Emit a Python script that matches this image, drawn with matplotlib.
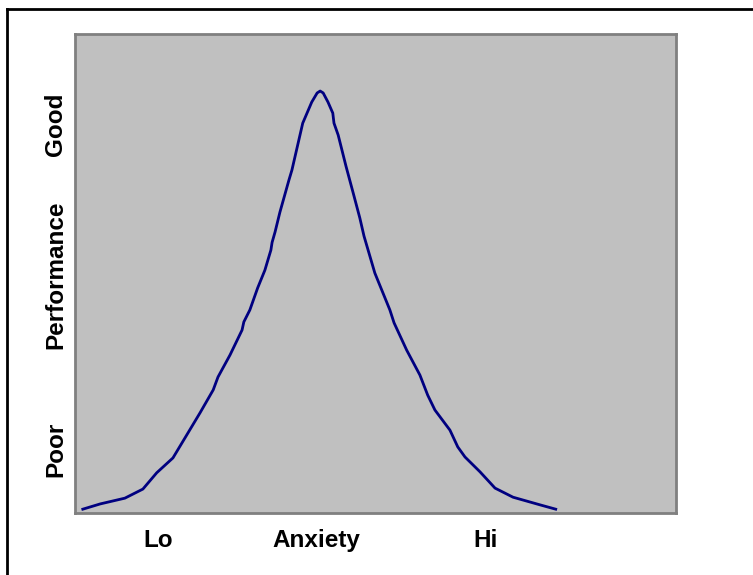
#!/usr/bin/env python
# Yerkes-Dodson style curve: performance vs anxiety

import matplotlib
matplotlib.use('Agg')
import matplotlib.pyplot as plt
from matplotlib.lines import Line2D

# curve (anxiety 0..100, performance 0..100)
anxiety = [1.3, 4.2, 8.3, 11.3, 13.6, 16.3, 18.6, 20.8, 23.0, 23.8, 25.8, 27.8,
           28.1, 29.1, 30.4, 31.6, 32.6, 32.8, 33.3, 34.1, 35.6, 36.1, 37.9,
           39.4, 40.3, 40.8, 41.3, 42.1, 42.9, 43.1, 43.8, 45.1, 46.3, 47.4,
           48.1, 49.9, 52.4, 53.1, 55.2, 57.4, 58.7, 59.9, 62.4, 63.7, 64.9,
           67.4, 69.9, 72.9, 77.4, 80.0]
performance = [0.8, 1.9, 3.1, 5.0, 8.4, 11.5, 16.3, 20.9, 25.7, 28.4, 33.0, 38.2,
               39.9, 42.4, 47.0, 50.7, 54.9, 56.5, 58.7, 62.8, 69.5, 71.6, 81.4,
               85.8, 87.7, 88.1, 87.7, 85.8, 83.5, 81.4, 78.9, 72.4, 66.8, 61.6,
               57.8, 50.1, 42.4, 39.7, 34.0, 28.8, 24.6, 21.5, 17.3, 13.8, 11.7,
               8.6, 5.2, 3.3, 1.7, 0.8]

x_labels = ['Lo', 'Anxiety', 'Hi']
y_labels = ['Poor', 'Performance', 'Good']

fig = plt.figure(figsize=(7.53, 5.75), dpi=100)
ax = fig.add_axes([0.0996, 0.1078, 0.798, 0.833])
ax.set_facecolor('#c0c0c0')
ax.plot(anxiety, performance, color='#000080', lw=2)
ax.set_xlim(0, 100)
ax.set_ylim(0, 100)
ax.set_xticks([])
ax.set_yticks([])
for s in ax.spines.values():
    s.set_color('#808080')
    s.set_linewidth(2)

# labels instead of ticks
font = dict(family='Liberation Sans', weight='bold', size=17.5)
for lab, xf in zip(x_labels, [0.2098, 0.4203, 0.6455]):
    fig.text(xf, 0.0487, lab, ha='center', va='baseline', **font)
for lab, yf in zip(y_labels, [0.2191, 0.5217, 0.7843]):
    fig.text(0.0823, yf, lab, ha='center', va='baseline', rotation=90,
             rotation_mode='anchor', **font)

# outer chart border (only top and left show)
fig.add_artist(Line2D([0.0099, 0.0099], [0, 0.9835], color='black', lw=2,
                      transform=fig.transFigure))
fig.add_artist(Line2D([0.0099, 1.0], [0.9835, 0.9835], color='black', lw=2,
                      transform=fig.transFigure))

fig.savefig('out.png', dpi=100)
